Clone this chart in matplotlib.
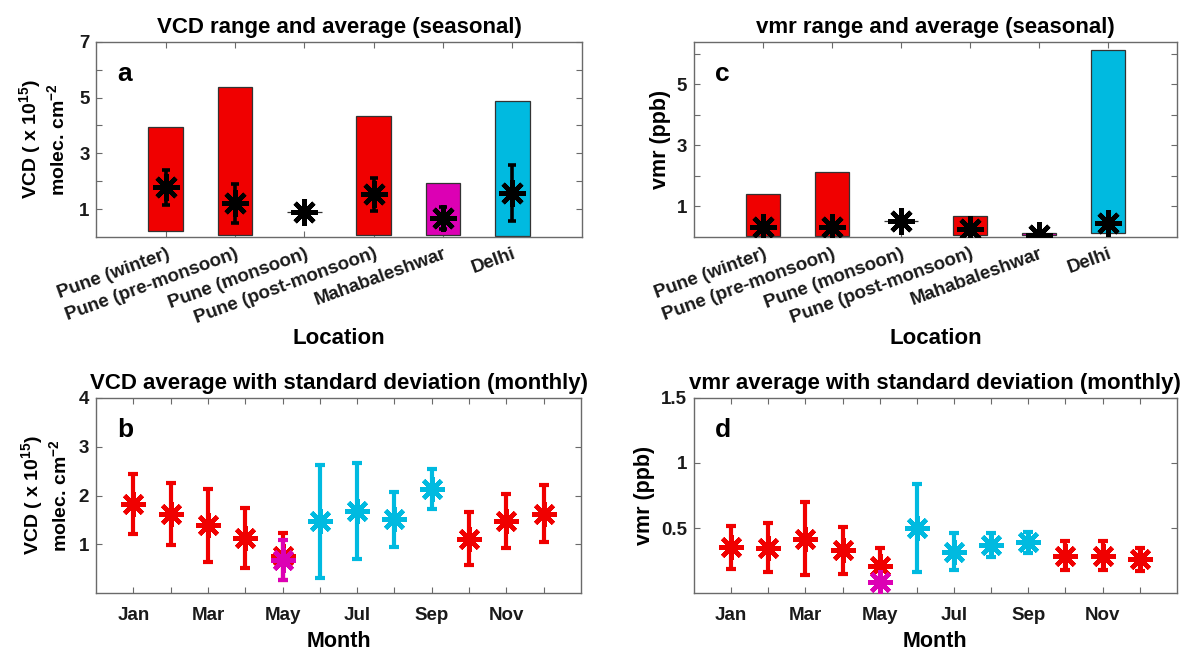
import matplotlib
matplotlib.use('Agg')
import matplotlib.pyplot as plt
import numpy as np

plt.rcParams['font.family'] = ['Liberation Sans', 'DejaVu Sans']
plt.rcParams['font.weight'] = 'bold'
plt.rcParams['mathtext.fontset'] = 'custom'
plt.rcParams['mathtext.rm'] = 'Liberation Sans:bold'
plt.rcParams['mathtext.it'] = 'Liberation Sans:bold'
plt.rcParams['mathtext.bf'] = 'Liberation Sans:bold'
plt.rcParams['axes.titleweight'] = 'bold'
plt.rcParams['axes.labelweight'] = 'bold'

# ---------------- data ----------------
locations = ['Pune (winter)', 'Pune (pre-monsoon)', 'Pune (monsoon)',
             'Pune (post-monsoon)', 'Mahabaleshwar', 'Delhi']
vcd_min = [0.20, 0.07, 0.885, 0.07, 0.07, 0.05]
vcd_max = [3.95, 5.38, 0.885, 4.35, 1.94, 4.87]
vcd_mean = [1.78, 1.21, 0.885, 1.54, 0.67, 1.58]
vcd_sd = [0.63, 0.70, 0.0, 0.59, 0.40, 1.00]

vmr_min = [0.03, 0.03, 0.54, 0.05, 0.05, 0.12]
vmr_max = [1.42, 2.13, 0.54, 0.69, 0.12, 6.12]
vmr_mean = [0.33, 0.33, 0.54, 0.27, 0.07, 0.45]
vmr_sd = [0.10, 0.10, 0.0, 0.10, 0.03, 0.12]

months = ['Jan', 'Feb', 'Mar', 'Apr', 'May', 'Jun', 'Jul', 'Aug', 'Sep',
          'Oct', 'Nov', 'Dec']
vcd_month_mean = [1.83, 1.62, 1.39, 1.13, 0.76, 1.47, 1.68, 1.51, 2.14, 1.12, 1.48, 1.63]
vcd_month_sd = [0.62, 0.63, 0.75, 0.62, 0.48, 1.16, 0.98, 0.56, 0.41, 0.54, 0.55, 0.58]
vcd_maha_may_mean = 0.68
vcd_maha_may_sd = 0.41

vmr_month_mean = [0.355, 0.35, 0.42, 0.33, 0.21, 0.50, 0.32, 0.37, 0.39, 0.29, 0.29, 0.26]
vmr_month_sd = [0.165, 0.19, 0.28, 0.18, 0.14, 0.34, 0.14, 0.095, 0.08, 0.11, 0.11, 0.09]
vmr_maha_may_mean = 0.09
vmr_maha_may_sd = 0.03

# ---------------- style ----------------
RED = '#F00000'
CYAN = '#00BAE0'
MAGENTA = '#DC00B4'
loc_colors = [RED, RED, RED, RED, MAGENTA, CYAN]
month_colors = [RED] * 5 + [CYAN] * 4 + [RED] * 3
SPINE = '#6a6a6a'
ASTER = (8, 2, 0)
TICKSIZE = 13.5

fig = plt.figure(figsize=(11.84, 6.52), dpi=100)
ax_a = fig.add_axes([0.0815, 0.6365, 0.4098, 0.2995])
ax_c = fig.add_axes([0.5861, 0.6365, 0.4079, 0.2995])
ax_b = fig.add_axes([0.0811, 0.0900, 0.4096, 0.3000])
ax_d = fig.add_axes([0.5861, 0.0900, 0.4079, 0.3000])


def style(ax):
    for s in ax.spines.values():
        s.set_color(SPINE)
        s.set_linewidth(1.0)
    ax.tick_params(direction='in', top=True, right=True, length=4, width=0.8,
                   color=SPINE, labelsize=TICKSIZE, labelcolor='#1a1a1a')
    ax.tick_params(axis='y', pad=5)


def seasonal(ax, vmin, vmax, vmean, vsd, ylim, yticks, ylabels, ylabel, ylsize, lpad, title, letter):
    x = np.arange(1, len(locations) + 1)
    heights = np.array(vmax) - np.array(vmin)
    ax.bar(x, heights, bottom=vmin, width=0.5, color=loc_colors,
           edgecolor='#333333', linewidth=0.9, zorder=2)
    ax.errorbar(x, vmean, yerr=vsd, fmt='none', ecolor='black', elinewidth=2.6,
                capsize=3.2, capthick=2.6, zorder=3)
    ax.plot(x, vmean, linestyle='none', marker=ASTER, markersize=19,
            markeredgewidth=3.3, color='black', zorder=4)
    ax.set_xlim(0, 7)
    ax.set_ylim(*ylim)
    ax.set_xticks(x)
    ax.set_xticklabels(locations, rotation=20, ha='right', rotation_mode='anchor')
    style(ax)
    ax.tick_params(axis='x', pad=6)
    ax.set_yticks(yticks)
    ax.set_yticklabels(ylabels)
    ax.set_ylabel(ylabel, fontsize=ylsize, labelpad=lpad)
    ax.set_xlabel('Location', fontsize=16)
    ax.xaxis.set_label_coords(0.5, -0.465)
    ax.set_title(title, fontsize=16, pad=6)
    ax.text(0.043, 0.80, letter, transform=ax.transAxes, fontsize=19,
            fontweight='bold', ha='left', va='baseline')


def monthly(ax, mean, sd, maha_mean, maha_sd, ylim, yticks, ylabels, ylabel, ylsize, lpad, title, letter):
    x = np.arange(1, 13)
    for xi, m, s, c in zip(x, mean, sd, month_colors):
        ax.errorbar([xi], [m], yerr=[s], fmt='none', ecolor=c, elinewidth=3.0,
                    capsize=3.6, capthick=3.0, zorder=2)
        ax.plot([xi], [m], linestyle='none', marker=ASTER, markersize=18,
                markeredgewidth=3.2, color=c, zorder=3)
    ax.errorbar([5], [maha_mean], yerr=[maha_sd], fmt='none', ecolor=MAGENTA,
                elinewidth=3.0, capsize=3.6, capthick=3.0, zorder=4)
    ax.plot([5], [maha_mean], linestyle='none', marker=ASTER, markersize=18,
            markeredgewidth=3.2, color=MAGENTA, zorder=5)
    ax.set_xlim(0, 13)
    ax.set_ylim(*ylim)
    ax.set_xticks(x)
    ax.set_xticklabels([m if i % 2 == 0 else '' for i, m in enumerate(months)])
    style(ax)
    ax.tick_params(axis='x', pad=10)
    ax.set_yticks(yticks)
    ax.set_yticklabels(ylabels)
    ax.set_ylabel(ylabel, fontsize=ylsize, labelpad=lpad)
    ax.set_xlabel('Month', fontsize=15.5)
    ax.xaxis.set_label_coords(0.5, -0.195)
    ax.set_title(title, fontsize=16, pad=6)
    ax.text(0.043, 0.80, letter, transform=ax.transAxes, fontsize=19,
            fontweight='bold', ha='left', va='baseline')


vcd_label = 'VCD ( x 10$^{15}$)\nmolec. cm$^{-2}$'

seasonal(ax_a, vcd_min, vcd_max, vcd_mean, vcd_sd, (0, 7),
         [1, 2, 3, 4, 5, 6, 7], ['1', '', '3', '', '5', '', '7'],
         vcd_label, 14, 8, 'VCD range and average (seasonal)', 'a')
seasonal(ax_c, vmr_min, vmr_max, vmr_mean, vmr_sd, (0, 6.4),
         [1, 2, 3, 4, 5, 6], ['1', '', '3', '', '5', ''],
         'vmr (ppb)', 15.5, 4, 'vmr range and average (seasonal)', 'c')
monthly(ax_b, vcd_month_mean, vcd_month_sd, vcd_maha_may_mean, vcd_maha_may_sd,
        (0, 4), [1, 2, 3, 4], ['1', '2', '3', '4'], vcd_label, 14, 6,
        'VCD average with standard deviation (monthly)', 'b')
monthly(ax_d, vmr_month_mean, vmr_month_sd, vmr_maha_may_mean, vmr_maha_may_sd,
        (0, 1.5), [0.5, 1.0, 1.5], ['0.5', '1', '1.5'], 'vmr (ppb)', 15.5, 4,
        'vmr average with standard deviation (monthly)', 'd')

fig.savefig('out.png', dpi=100)
